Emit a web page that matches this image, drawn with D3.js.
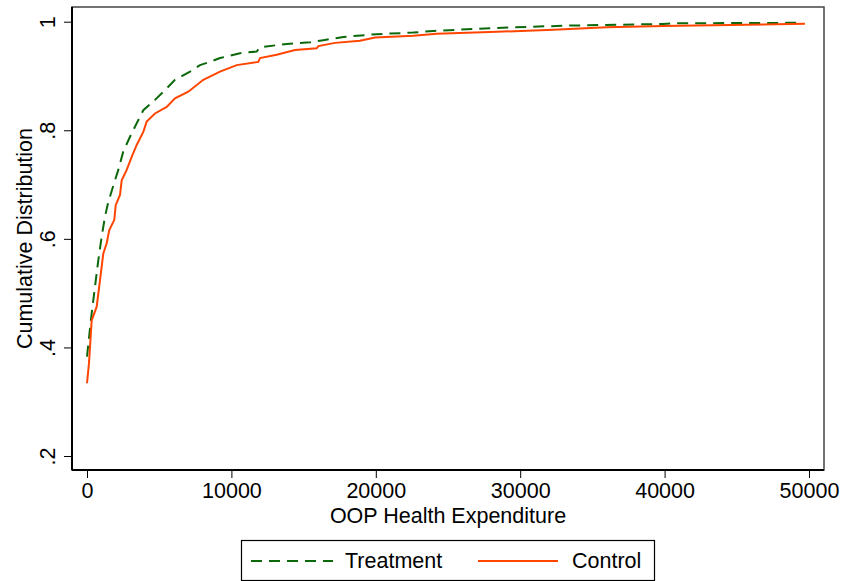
<!DOCTYPE html>
<html>
<head>
<meta charset="utf-8">
<script src="https://cdn.jsdelivr.net/npm/d3@7"></script>
<style>
  body { margin: 0; background: #fff; }
  svg { display: block; font-family: "Liberation Sans", Arial, Helvetica, sans-serif; }
</style>
</head>
<body>
<div id="chart"></div>
<script>
// CDF points: [OOP expenditure, cumulative share]
const treatment = [
  [0, 0.383], [208, 0.435], [325, 0.463], [554, 0.512], [785, 0.561], [1015, 0.604],
  [1247, 0.641], [1475, 0.668], [1939, 0.708], [2168, 0.727], [2514, 0.761], [2978, 0.788],
  [3442, 0.813], [3899, 0.837], [4709, 0.856], [5402, 0.874], [6094, 0.893], [7133, 0.908],
  [7825, 0.920], [8518, 0.926], [9211, 0.933], [10596, 0.942], [11752, 0.945], [11981, 0.953],
  [13829, 0.959], [15457, 0.962], [16378, 0.966], [17763, 0.972], [20062, 0.977], [22597, 0.980],
  [23982, 0.983], [27909, 0.988], [32985, 0.9926], [39910, 0.9958], [40600, 0.997], [49300, 0.998]
];
const control = [
  [0, 0.334], [138, 0.371], [325, 0.450], [672, 0.475], [900, 0.524], [1129, 0.573],
  [1364, 0.592], [1544, 0.616], [1891, 0.635], [1988, 0.662], [2285, 0.681], [2403, 0.708],
  [2749, 0.727], [3096, 0.751], [3442, 0.773], [3899, 0.797], [4134, 0.816], [4709, 0.831],
  [5519, 0.843], [6094, 0.859], [7015, 0.871], [8054, 0.893], [9211, 0.908], [10367, 0.920],
  [11863, 0.926], [11981, 0.933], [13137, 0.939], [14404, 0.948], [15907, 0.951], [16021, 0.955],
  [17175, 0.961], [18906, 0.965], [19945, 0.971], [22597, 0.974], [24215, 0.978], [27909, 0.981],
  [32293, 0.985], [35990, 0.990], [39910, 0.992], [44530, 0.994], [49720, 0.996]
];
const xTicks = [0, 10000, 20000, 30000, 40000, 50000];
const yTicks = [0.2, 0.4, 0.6, 0.8, 1];
const seriesNames = ["Treatment", "Control"];

const W = 842, H = 581;
const frame = { left: 72, top: 7, right: 824, bottom: 470 };
const font = 21.5;

const x = d3.scaleLinear().domain([0, 50000]).range([87, 809]);
const y = d3.scaleLinear().domain([0.2, 1]).range([456, 21.7]);

const svg = d3.select("#chart").append("svg")
  .attr("width", W)
  .attr("height", H);

// plot region outline
svg.append("rect")
  .attr("x", frame.left)
  .attr("y", frame.top)
  .attr("width", frame.right - frame.left)
  .attr("height", frame.bottom - frame.top)
  .attr("fill", "none")
  .attr("stroke", "#444")
  .attr("stroke-width", 1.5);

const line = d3.line()
  .x(d => x(d[0]))
  .y(d => y(d[1]));

svg.append("path")
  .datum(treatment)
  .attr("d", line)
  .attr("fill", "none")
  .attr("stroke", "#0b680b")
  .attr("stroke-width", 2)
  .attr("stroke-dasharray", "11,7");

svg.append("path")
  .datum(control)
  .attr("d", line)
  .attr("fill", "none")
  .attr("stroke", "#ff4500")
  .attr("stroke-width", 2);

// x axis
const xAxis = svg.append("g")
  .attr("transform", `translate(0,${frame.bottom})`)
  .call(d3.axisBottom(x).tickValues(xTicks).tickFormat(d3.format("d")).tickSize(8).tickPadding(5));
xAxis.select(".domain").remove();
xAxis.selectAll("text").style("font-size", font + "px").attr("fill", "#000");

svg.append("line")
  .attr("x1", frame.left).attr("x2", frame.right)
  .attr("y1", frame.bottom).attr("y2", frame.bottom)
  .attr("stroke", "#000").attr("stroke-width", 2);

// y axis, labels turned on their side as in Stata
const yAxis = svg.append("g")
  .attr("transform", `translate(${frame.left},0)`)
  .call(d3.axisLeft(y).tickValues(yTicks).tickSize(8)
    .tickFormat(d => d === 1 ? "1" : String(d).replace("0.", ".")));
yAxis.select(".domain").remove();
yAxis.selectAll("text")
  .attr("transform", "rotate(-90)")
  .attr("x", 0)
  .attr("y", -17)
  .attr("dy", 0)
  .style("text-anchor", "middle")
  .style("font-size", font + "px")
  .attr("fill", "#000");

svg.append("line")
  .attr("x1", frame.left).attr("x2", frame.left)
  .attr("y1", frame.top).attr("y2", frame.bottom)
  .attr("stroke", "#000").attr("stroke-width", 2);

svg.append("text")
  .attr("x", (frame.left + frame.right) / 2)
  .attr("y", 522.5)
  .attr("text-anchor", "middle")
  .style("font-size", font + "px")
  .text("OOP Health Expenditure");

svg.append("text")
  .attr("transform", `translate(32,${(frame.top + frame.bottom) / 2}) rotate(-90)`)
  .attr("text-anchor", "middle")
  .style("font-size", font + "px")
  .text("Cumulative Distribution");

// legend
const legend = svg.append("g");
legend.append("rect")
  .attr("x", 241.5).attr("y", 540.5)
  .attr("width", 413).attr("height", 40)
  .attr("fill", "#fff")
  .attr("stroke", "#000")
  .attr("stroke-width", 1.2);

const keys = [
  { name: seriesNames[0], x1: 251, x2: 333, tx: 345, color: "#0b680b", dash: "11,7" },
  { name: seriesNames[1], x1: 478, x2: 558, tx: 572, color: "#ff4500", dash: null }
];
keys.forEach(k => {
  legend.append("line")
    .attr("x1", k.x1).attr("x2", k.x2)
    .attr("y1", 561).attr("y2", 561)
    .attr("stroke", k.color)
    .attr("stroke-width", 2)
    .attr("stroke-dasharray", k.dash);
  legend.append("text")
    .attr("x", k.tx).attr("y", 567.5)
    .style("font-size", font + "px")
    .text(k.name);
});
</script>
</body>
</html>
